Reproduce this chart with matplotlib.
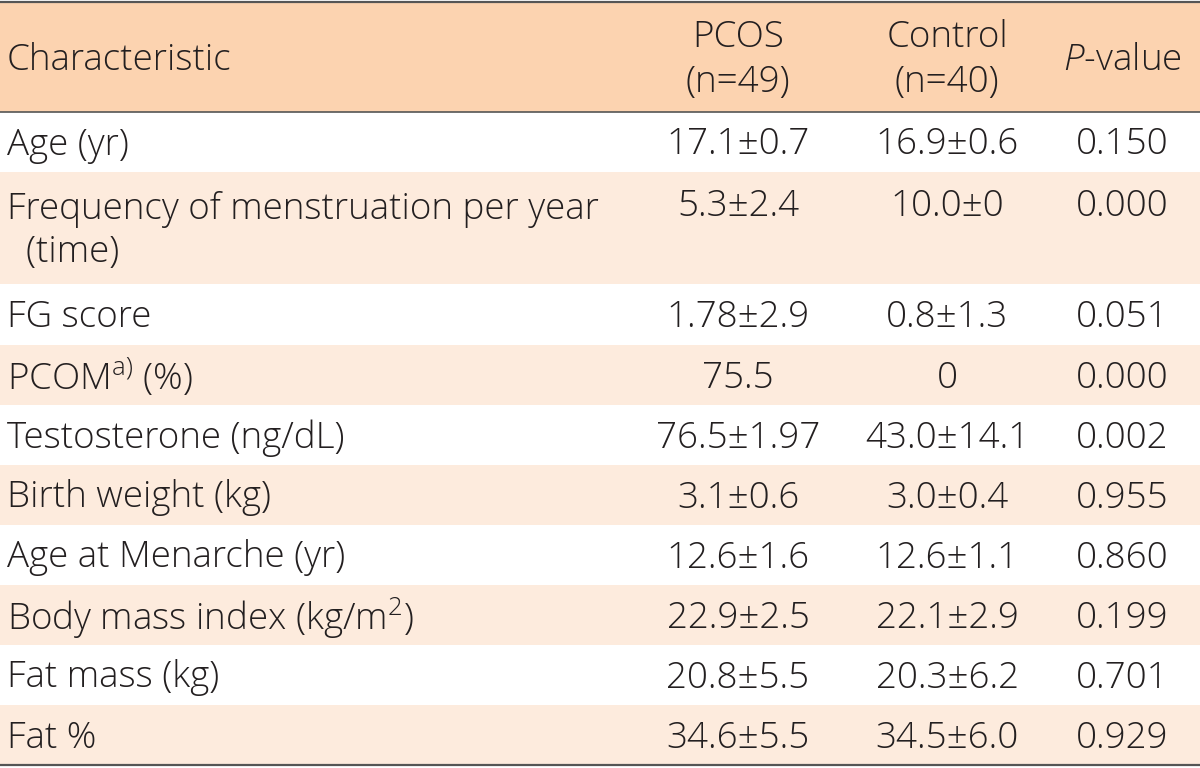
import matplotlib.pyplot as plt
from matplotlib.patches import Rectangle

plt.rcParams['font.family'] = ['Open Sans', 'DejaVu Sans']
plt.rcParams['mathtext.fontset'] = 'custom'
plt.rcParams['mathtext.rm'] = 'Open Sans:light'
plt.rcParams['mathtext.it'] = 'Open Sans:italic:light'

# table content
characteristics = ['Age (yr)',
                   'Frequency of menstruation per year\n  (time)',
                   'FG score',
                   r'PCOM$^{\mathrm{a)}}$ (%)',
                   'Testosterone (ng/dL)',
                   'Birth weight (kg)',
                   'Age at Menarche (yr)',
                   r'Body mass index (kg/m$^{\mathrm{2}}$)',
                   'Fat mass (kg)',
                   'Fat %']
pcos = ['17.1±0.7', '5.3±2.4', '1.78±2.9', '75.5', '76.5±1.97',
        '3.1±0.6', '12.6±1.6', '22.9±2.5', '20.8±5.5', '34.6±5.5']
control = ['16.9±0.6', '10.0±0', '0.8±1.3', '0', '43.0±14.1',
           '3.0±0.4', '12.6±1.1', '22.1±2.9', '20.3±6.2', '34.5±6.0']
p_values = ['0.150', '0.000', '0.051', '0.000', '0.002',
            '0.955', '0.860', '0.199', '0.701', '0.929']
headers = ['Characteristic', 'PCOS\n(n=49)', 'Control\n(n=40)', r'$P$-value']

header_color = '#FCD3B0'
stripe_color = '#FDEBDD'
text_color = '#231F20'
line_color = '#555555'
fs = 26.5

fig = plt.figure(figsize=(12, 7.68), dpi=100)
ax = fig.add_axes([0, 0, 1, 1])
ax.set_xlim(0, 1200)
ax.set_ylim(768, 0)
ax.axis('off')

col_x = [7, 738, 947, 1122]
header_top, header_bot = 2, 112
row_heights = [60, 112, 61, 60, 60, 60, 60, 60, 60, 60]

# header
ax.add_patch(Rectangle((0, header_top), 1200, header_bot - header_top,
                       color=header_color, lw=0))
hy = (header_top + header_bot) / 2 + 3
ax.text(col_x[0], hy, headers[0], ha='left', va='center', fontsize=fs,
        color=text_color, fontweight='light')
for x, h in zip(col_x[1:], headers[1:]):
    ax.text(x, hy, h, ha='center', va='center', fontsize=fs,
            color=text_color, linespacing=1.3, fontweight='light')

# body rows
y = header_bot
for i, h in enumerate(row_heights):
    if i % 2 == 1:
        ax.add_patch(Rectangle((0, y), 1200, h, color=stripe_color, lw=0))
    if '\n' in characteristics[i]:
        first_y = y + 34
        ax.text(col_x[0], y + h / 2 + 3, characteristics[i], ha='left',
                va='center', fontsize=fs, color=text_color,
                linespacing=1.22, fontweight='light')
    else:
        first_y = y + h / 2 + 3
        ax.text(col_x[0], first_y, characteristics[i], ha='left',
                va='center', fontsize=fs, color=text_color, fontweight='light')
    for x, v in zip(col_x[1:], [pcos[i], control[i], p_values[i]]):
        ax.text(x, first_y, v, ha='center', va='center', fontsize=fs,
                color=text_color, fontweight='light')
    y += h

ax.plot([0, 1200], [header_top, header_top], color=line_color, lw=1.6)
ax.plot([0, 1200], [header_bot, header_bot], color=line_color, lw=1.2)
ax.plot([0, 1200], [y, y], color=line_color, lw=1.6)

fig.savefig('out.png', dpi=100)
